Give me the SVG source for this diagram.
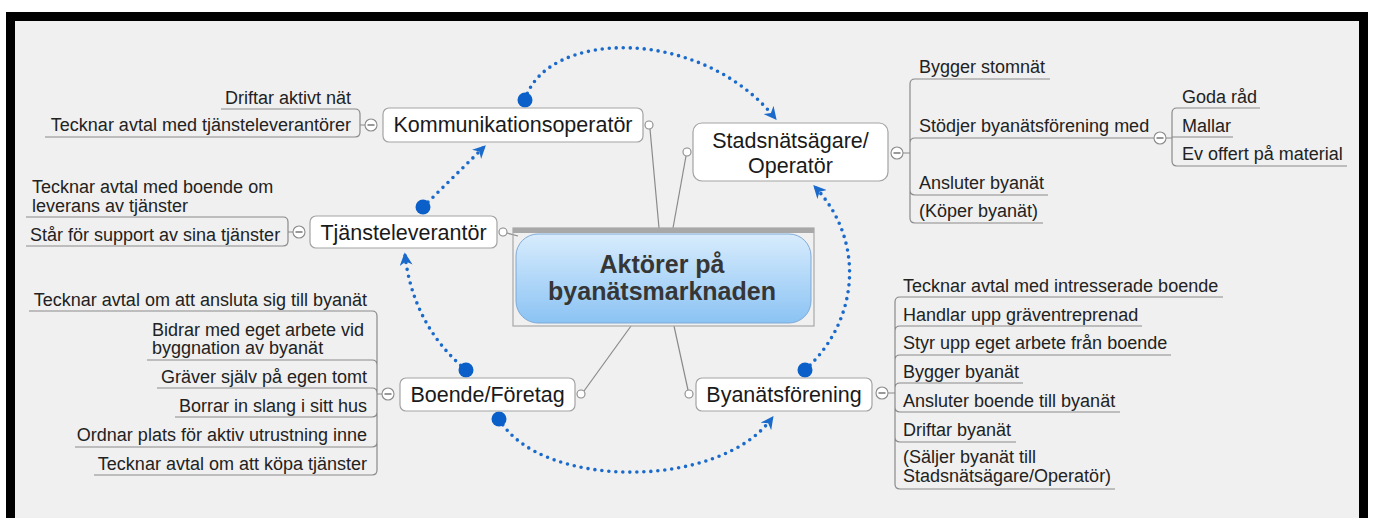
<svg xmlns="http://www.w3.org/2000/svg" width="1373" height="518" viewBox="0 0 1373 518">
<defs>
<style>
.bg{fill:#f0f0f0}
.box{fill:#ffffff;stroke:#a3a3a3;stroke-width:1.2}
.nt{font-family:"Liberation Sans",Arial,sans-serif;font-size:21.5px;fill:#1a1a1a;text-anchor:middle}
.ct{font-family:"Liberation Sans",Arial,sans-serif;font-size:18px;fill:#222}
.r{text-anchor:end}
.ln{fill:none;stroke:#8a8a8a;stroke-width:1.2}
.cc{fill:#ffffff;stroke:#8a8a8a;stroke-width:1.1}
.minus{stroke:#555;stroke-width:1.2}
.rel{fill:none;stroke:#1a6acb;stroke-width:3.6;stroke-linecap:round;stroke-dasharray:0 7;marker-end:url(#ah)}
.sd{fill:#0a5fc8}
</style>
<marker id="ah" viewBox="0 0 10 10" refX="8" refY="5" markerWidth="13" markerHeight="13" markerUnits="userSpaceOnUse" orient="auto">
<path d="M0,0 L10,5 L0,10 L3,5 z" fill="#1a6acb"/>
</marker>
<linearGradient id="cg" x1="0" y1="0" x2="0" y2="1">
<stop offset="0" stop-color="#d8ecfd"/>
<stop offset="1" stop-color="#8bc3f3"/>
</linearGradient>
</defs>
<rect x="0" y="0" width="1373" height="518" fill="#ffffff"/>
<rect x="6" y="12" width="1362" height="506" fill="#000"/>
<rect class="bg" x="15" y="21" width="1344" height="497"/>

<g id="connectors">
<!-- central branch lines -->
<path class="ln" d="M650,129 L659,228"/>
<path class="ln" d="M686,156 L673,228"/>
<path class="ln" d="M507,233 L518,236"/>
<path class="ln" d="M584,391 L631,326"/>
<path class="ln" d="M688,390 L674,326"/>
<!-- relationships -->
<path class="rel" d="M525,100 C545,30 700,25 775,118"/>
<path class="rel" d="M423,207 L484,147"/>
<path class="rel" d="M466,370 C430,340 410,300 405,255"/>
<path class="rel" d="M499,419 C540,490 720,490 772,418"/>
<path class="rel" d="M805,370 C860,320 865,240 815,187"/>
<circle class="sd" cx="525" cy="100" r="7.5"/>
<circle class="sd" cx="423" cy="207" r="7.5"/>
<circle class="sd" cx="466" cy="370" r="7.5"/>
<circle class="sd" cx="499" cy="419" r="7.5"/>
<circle class="sd" cx="805" cy="370" r="7.5"/>
</g>

<g id="center">
<rect x="513" y="228" width="301" height="98" fill="none" stroke="#a8a8a8" stroke-width="1.2"/>
<rect x="513" y="228" width="301" height="5" fill="#a8a8a8"/>
<rect x="516" y="234" width="295" height="89" rx="22" fill="url(#cg)" stroke="#7eaad6" stroke-width="1"/>
<text x="662" y="273" font-family="Liberation Sans,Arial,sans-serif" font-size="25" font-weight="bold" fill="#363636" text-anchor="middle">Aktörer på</text>
<text x="662" y="300" font-family="Liberation Sans,Arial,sans-serif" font-size="25" font-weight="bold" fill="#363636" text-anchor="middle">byanätsmarknaden</text>
</g>

<g id="kommunikationsoperator">
<rect class="box" x="383" y="108" width="260" height="34" rx="6"/>
<text class="nt" x="513" y="132">Kommunikationsoperatör</text>
<circle class="cc" cx="649" cy="125" r="4"/>
<path class="ln" d="M365,125 L360,125 M360,125 L360,114 Q360,109 355,109 L221,109 M360,125 L360,132 Q360,137 355,137 L45,137"/>
<circle class="cc" cx="371" cy="125" r="6"/>
<line class="minus" x1="367.5" y1="125" x2="374.5" y2="125"/>
<text class="ct r" x="351" y="104">Driftar aktivt nät</text>
<text class="ct r" x="351" y="131">Tecknar avtal med tjänsteleverantörer</text>
</g>

<g id="tjansteleverantor">
<rect class="box" x="310" y="216" width="187" height="32" rx="6"/>
<text class="nt" x="403.5" y="240">Tjänsteleverantör</text>
<circle class="cc" cx="503" cy="232" r="4"/>
<path class="ln" d="M293,232 L288,232 M288,232 L288,222 Q288,217 283,217 L26,217 M288,232 L288,241 Q288,246 283,246 L26,246"/>
<circle class="cc" cx="299" cy="232" r="6"/>
<line class="minus" x1="295.5" y1="232" x2="302.5" y2="232"/>
<text class="ct" x="32" y="193">Tecknar avtal med boende om</text>
<text class="ct" x="32" y="212">leverans av tjänster</text>
<text class="ct" x="30" y="241">Står för support av sina tjänster</text>
</g>

<g id="boende">
<rect class="box" x="400" y="378" width="175" height="33" rx="6"/>
<text class="nt" x="487.5" y="402">Boende/Företag</text>
<circle class="cc" cx="581" cy="394" r="4"/>
<path class="ln" d="M382,394 L377,394 M377,394 L377,316 Q377,311 372,311 L29,311 M377,394 L377,365 Q377,360 372,360 L147,360 M377,394 L377,393 Q377,388 372,388 L157,388 M377,394 L377,412 Q377,417 372,417 L175,417 M377,394 L377,442 Q377,447 372,447 L75,447 M377,394 L377,470 Q377,475 372,475 L94,475"/>
<circle class="cc" cx="388" cy="394" r="6"/>
<line class="minus" x1="384.5" y1="394" x2="391.5" y2="394"/>
<text class="ct r" x="367" y="306">Tecknar avtal om att ansluta sig till byanät</text>
<text class="ct" x="152" y="336">Bidrar med eget arbete vid</text>
<text class="ct" x="152" y="354">byggnation av byanät</text>
<text class="ct r" x="367" y="383">Gräver själv på egen tomt</text>
<text class="ct r" x="367" y="412">Borrar in slang i sitt hus</text>
<text class="ct r" x="367" y="441">Ordnar plats för aktiv utrustning inne</text>
<text class="ct r" x="367" y="470">Tecknar avtal om att köpa tjänster</text>
</g>

<g id="stadsnatsagare">
<rect class="box" x="693" y="123" width="195" height="58" rx="9"/>
<text class="nt" x="790.5" y="148">Stadsnätsägare/</text>
<text class="nt" x="790.5" y="173">Operatör</text>
<circle class="cc" cx="687" cy="152" r="4"/>
<path class="ln" d="M903,153 L910,153 M910,153 L910,84 Q910,79 915,79 L1050,79 M910,153 L910,143 Q910,138 915,138 L1154,138 M910,153 L910,190 Q910,195 915,195 L1048,195 M910,153 L910,218 Q910,223 915,223 L1043,223"/>
<circle class="cc" cx="897" cy="153" r="6"/>
<line class="minus" x1="893.5" y1="153" x2="900.5" y2="153"/>
<text class="ct" x="919" y="73">Bygger stomnät</text>
<text class="ct" x="919" y="132">Stödjer byanätsförening med</text>
<text class="ct" x="919" y="189">Ansluter byanät</text>
<text class="ct" x="919" y="217">(Köper byanät)</text>
<path class="ln" d="M1166,138 L1172,138 M1172,138 L1172,113 Q1172,108 1177,108 L1260,108 M1172,138 L1172,137 L1233,137 M1172,138 L1172,161 Q1172,166 1177,166 L1347,166"/>
<circle class="cc" cx="1160" cy="138" r="6"/>
<line class="minus" x1="1156.5" y1="138" x2="1163.5" y2="138"/>
<text class="ct" x="1182" y="103">Goda råd</text>
<text class="ct" x="1182" y="132">Mallar</text>
<text class="ct" x="1182" y="160">Ev offert på material</text>
</g>

<g id="byanatsforening">
<rect class="box" x="696" y="378" width="176" height="33" rx="6"/>
<text class="nt" x="784" y="402">Byanätsförening</text>
<circle class="cc" cx="689" cy="394" r="4"/>
<path class="ln" d="M888,393 L895,393 M895,393 L895,302 Q895,297 900,297 L1223,297 M895,393 L895,331 Q895,326 900,326 L1142,326 M895,393 L895,360 Q895,355 900,355 L1171,355 M895,393 L895,388 Q895,383 900,383 L1023,383 M895,393 L895,407 Q895,412 900,412 L1120,412 M895,393 L895,437 Q895,442 900,442 L1016,442 M895,393 L895,484 Q895,489 900,489 L1115,489"/>
<circle class="cc" cx="882" cy="393" r="6"/>
<line class="minus" x1="878.5" y1="393" x2="885.5" y2="393"/>
<text class="ct" x="903" y="292">Tecknar avtal med intresserade boende</text>
<text class="ct" x="903" y="321">Handlar upp gräventreprenad</text>
<text class="ct" x="903" y="349">Styr upp eget arbete från boende</text>
<text class="ct" x="903" y="378">Bygger byanät</text>
<text class="ct" x="903" y="407">Ansluter boende till byanät</text>
<text class="ct" x="903" y="436">Driftar byanät</text>
<text class="ct" x="903" y="463">(Säljer byanät till</text>
<text class="ct" x="903" y="482">Stadsnätsägare/Operatör)</text>
</g>
</svg>
